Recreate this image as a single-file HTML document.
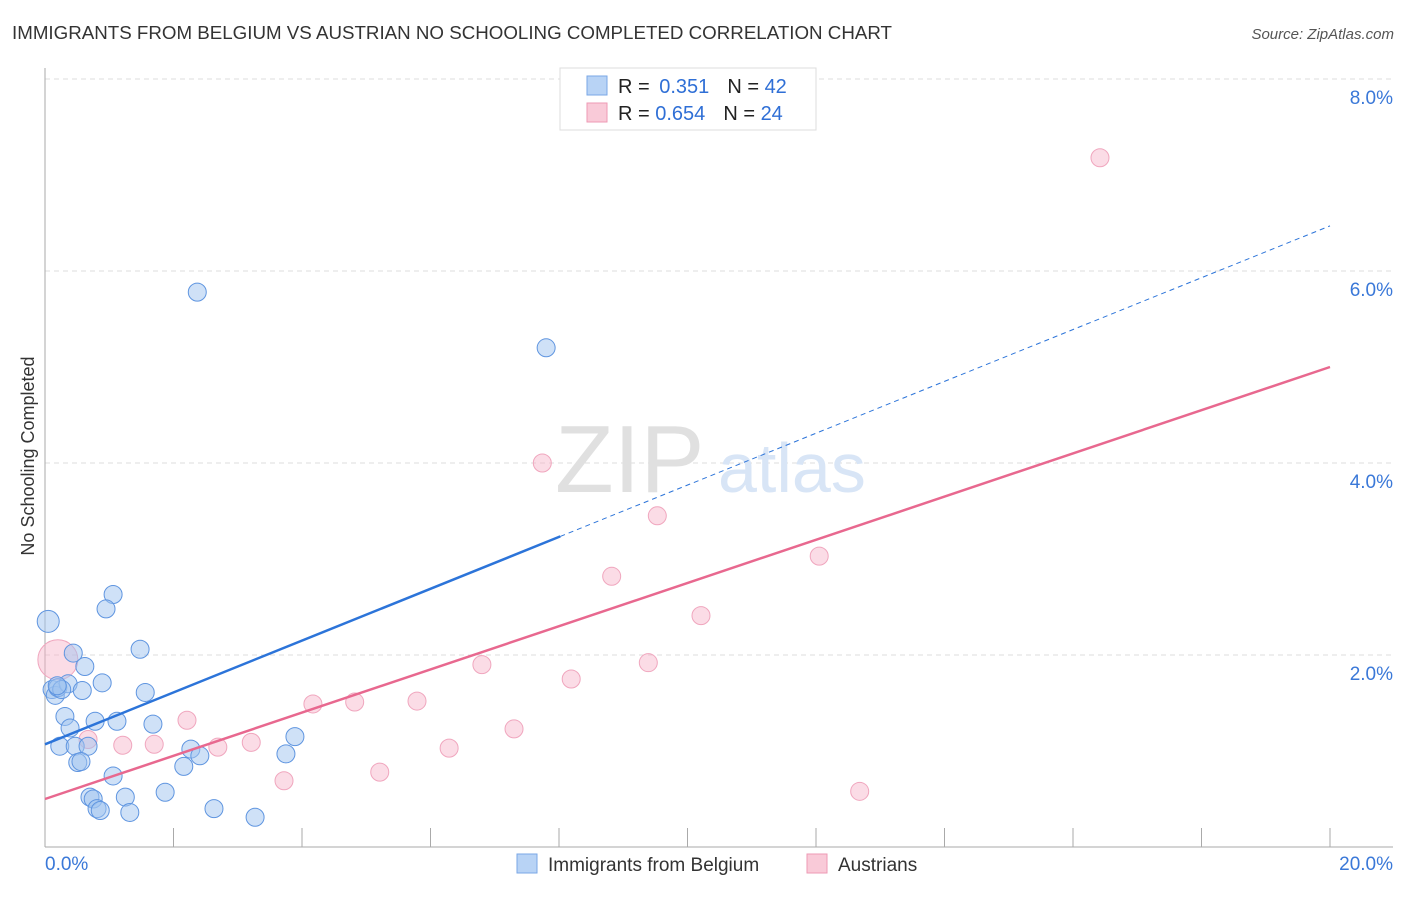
<!DOCTYPE html>
<html><head><meta charset="utf-8"><style>
body{margin:0;background:#fff;font-family:"Liberation Sans",sans-serif;}
svg text{font-family:"Liberation Sans",sans-serif;}
</style></head><body>
<svg id="chart" width="1406" height="892" xmlns="http://www.w3.org/2000/svg">
<text x="12" y="39" font-size="18" fill="#333" textLength="880" lengthAdjust="spacingAndGlyphs">IMMIGRANTS FROM BELGIUM VS AUSTRIAN NO SCHOOLING COMPLETED CORRELATION CHART</text>
<text x="1394" y="39" font-size="15" fill="#555" font-style="italic" text-anchor="end">Source: ZipAtlas.com</text>
<text transform="translate(34,456) rotate(-90)" font-size="18" fill="#333" text-anchor="middle">No Schooling Completed</text>
<g id="grid"></g>
<g id="axes"></g>
<text x="555" y="492" font-size="96" fill="#e0e0e0" font-family="Liberation Serif">ZIP</text>
<text x="718" y="492" font-size="70" fill="#d8e5f6">atlas</text>
<g id="marks"></g>
<g>
<rect x="560" y="68" width="256" height="62" fill="#fff" stroke="#ddd"/>
<rect x="587" y="76" width="20" height="19" fill="#b8d3f5" stroke="#7aa7e6"/>
<text x="618" y="93" font-size="20" fill="#222">R = <tspan fill="#2f6fd6" dx="4">0.351</tspan><tspan fill="#222" dx="18">N = </tspan><tspan fill="#2f6fd6">42</tspan></text>
<rect x="587" y="103" width="20" height="19" fill="#f9cad8" stroke="#ee9ab4"/>
<text x="618" y="120" font-size="20" fill="#222">R = <tspan fill="#2f6fd6">0.654</tspan><tspan fill="#222" dx="18">N = </tspan><tspan fill="#2f6fd6">24</tspan></text>
</g>
<g>
<rect x="517" y="854" width="20" height="19" fill="#b8d3f5" stroke="#7aa7e6"/>
<text x="548" y="871" font-size="19" fill="#333">Immigrants from Belgium</text>
<rect x="807" y="854" width="20" height="19" fill="#f9cad8" stroke="#ee9ab4"/>
<text x="838" y="871" font-size="19" fill="#333">Austrians</text>
</g>
</svg>
<script>
const yTicks=[2,4,6,8];
const yTickLabels=["2.0%","4.0%","6.0%","8.0%"];
const xTickLabels=["0.0%","20.0%"];
const blueX=[0.05,1.06,0.95,0.44,0.62,0.11,0.16,0.2,0.36,0.58,0.89,1.48,1.56,0.31,0.39,0.78,1.12,1.68,0.23,0.47,0.67,0.51,0.56,1.06,0.70,0.75,0.81,0.86,1.25,1.32,1.87,2.16,2.27,2.41,2.63,3.27,3.75,3.89,2.37,7.80,0.26,0.19];
const blueY=[2.35,2.63,2.48,2.02,1.88,1.64,1.58,1.66,1.70,1.63,1.71,2.06,1.61,1.36,1.24,1.31,1.31,1.28,1.05,1.05,1.05,0.88,0.89,0.74,0.52,0.50,0.40,0.38,0.52,0.36,0.57,0.84,1.02,0.95,0.40,0.31,0.97,1.15,5.78,5.20,1.64,1.68];
const pinkX=[0.2,0.67,1.21,1.70,2.21,2.69,3.21,3.72,4.17,4.82,5.21,5.79,6.29,6.80,7.30,7.74,8.19,8.82,9.39,9.53,10.21,12.05,12.68,16.42];
const pinkY=[1.95,1.12,1.06,1.07,1.32,1.04,1.09,0.69,1.49,1.51,0.78,1.52,1.03,1.90,1.23,4.0,1.75,2.82,1.92,3.45,2.41,3.03,0.58,7.18];
const blueLine=[1.07,6.47];
const pinkLine=[0.5,5.0];
const blueSolidEnd=8.02;

const NS="http://www.w3.org/2000/svg";
const X=v=>45+v*64.25, Y=v=>847-v*96;
function mk(tag,attrs,parent){const e=document.createElementNS(NS,tag);for(const k in attrs)e.setAttribute(k,attrs[k]);parent.appendChild(e);return e;}
const grid=document.getElementById('grid'),axes=document.getElementById('axes'),marks=document.getElementById('marks');
yTicks.forEach((t,i)=>{
  const l=mk('line',{x1:45,x2:1393,y1:Y(t),y2:Y(t),stroke:'#ddd','stroke-dasharray':'5,4'},grid);
  
  
  const tx=mk('text',{x:1393,y:Y(t)+25,'font-size':19,fill:'#3a78d8','text-anchor':'end'},axes);
  tx.textContent=yTickLabels[i];
  
  
});
let a=mk('line',{x1:45,x2:45,y1:68,y2:847,stroke:'#aaa'},axes);


a=mk('line',{x1:45,x2:1393,y1:847,y2:847,stroke:'#aaa'},axes);


for(let k=1;k<=10;k++){
  const t=mk('line',{x1:X(k*2),x2:X(k*2),y1:828,y2:847,stroke:'#aaa'},axes);
  
  
}
[[0,45,'start'],[20,1393,'end']].forEach((d,i)=>{
  const tx=mk('text',{x:d[1],y:870,'font-size':19,fill:'#3a78d8','text-anchor':d[2]},axes);
  tx.textContent=xTickLabels[i];
  
  
});
pinkX.forEach((x,i)=>{
  const c=mk('circle',{cx:X(x),cy:Y(pinkY[i]),r:i===0?20:9,fill:'rgba(246,178,200,0.45)',stroke:'#f0a6be','stroke-width':1},marks);
  
  
});
blueX.forEach((x,i)=>{
  const c=mk('circle',{cx:X(x),cy:Y(blueY[i]),r:i===0?11:9,fill:'rgba(160,196,240,0.5)',stroke:'#5f95e0','stroke-width':1},marks);
  
  
});
const bAt=x=>blueLine[0]+(blueLine[1]-blueLine[0])*x/20;
let ln=mk('line',{x1:X(0),y1:Y(bAt(0)),x2:X(blueSolidEnd),y2:Y(bAt(blueSolidEnd)),stroke:'#2c74d9','stroke-width':2.5},marks);


ln=mk('line',{x1:X(blueSolidEnd),y1:Y(bAt(blueSolidEnd)),x2:X(20),y2:Y(bAt(20)),stroke:'#2c74d9','stroke-width':1,'stroke-dasharray':'5,4'},marks);


ln=mk('line',{x1:X(0),y1:Y(pinkLine[0]),x2:X(20),y2:Y(pinkLine[1]),stroke:'#e8688f','stroke-width':2.5},marks);


</script>
</body></html>
